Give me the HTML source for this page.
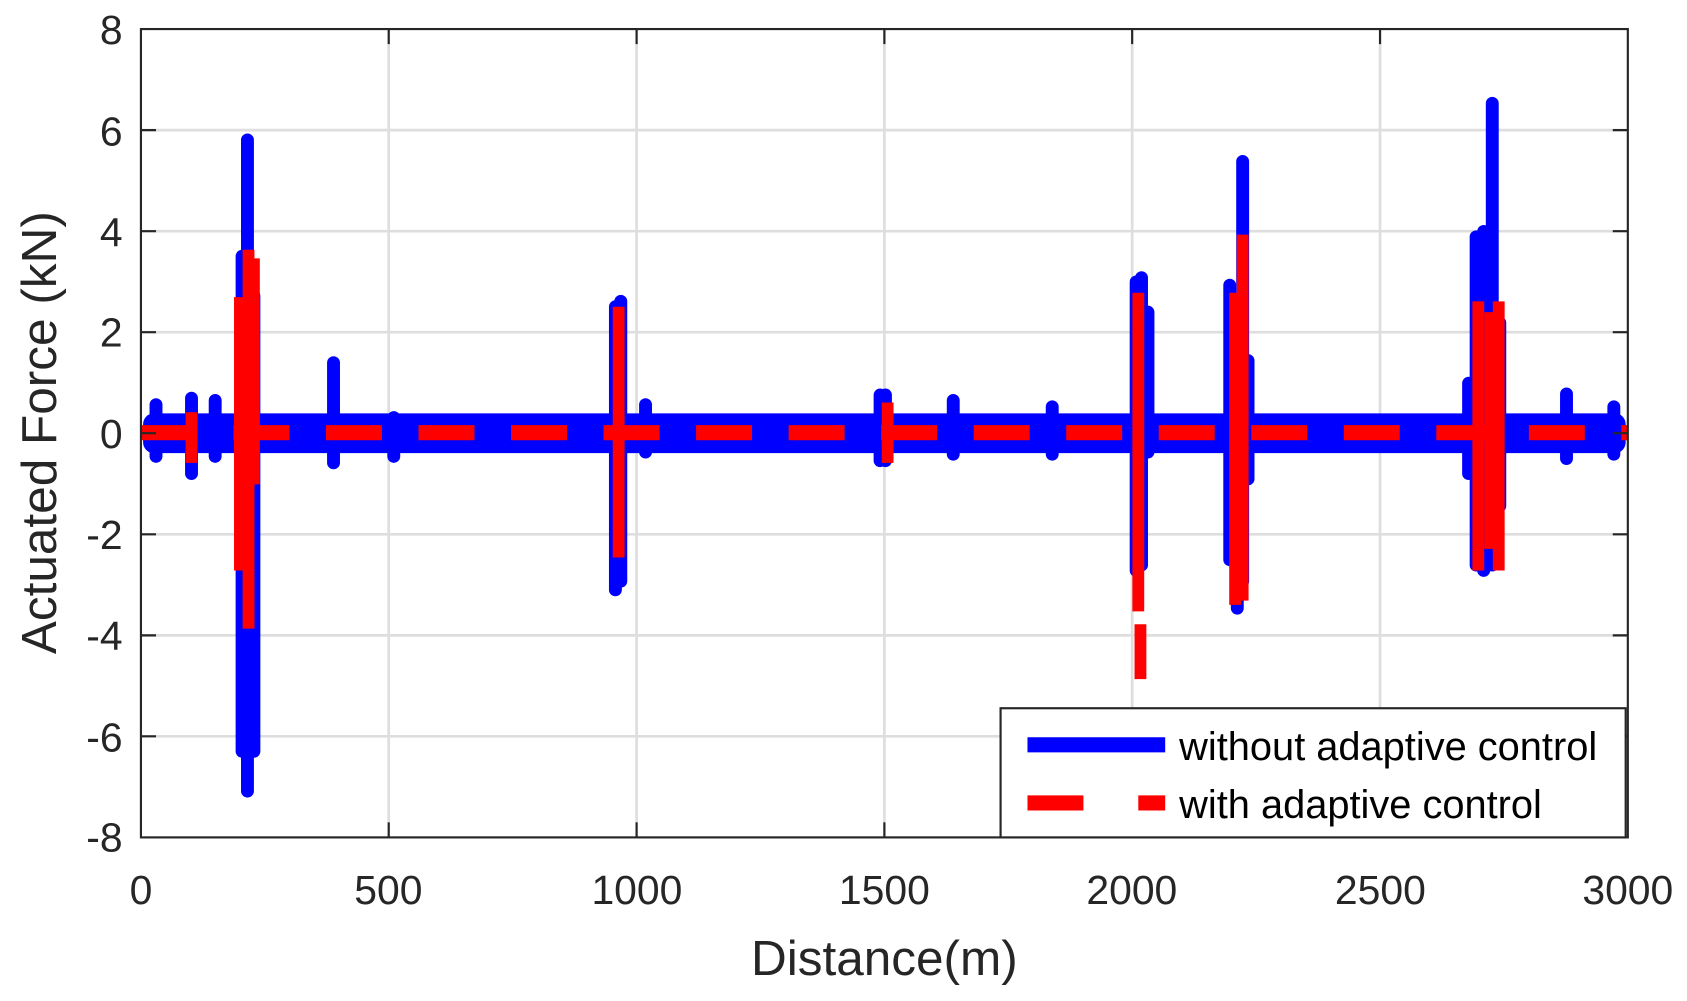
<!DOCTYPE html><html><head><style>html,body{margin:0;padding:0;background:#fff}svg{display:block}</style></head><body>
<svg width="1687" height="1001" viewBox="0 0 1568 930" preserveAspectRatio="none" xmlns="http://www.w3.org/2000/svg" font-family="Liberation Sans, sans-serif">
<rect width="1568" height="930" fill="#fff"/>
<g stroke="#dedede" stroke-width="2.5">
<line x1="361.3" y1="27" x2="361.3" y2="778"/><line x1="591.7" y1="27" x2="591.7" y2="778"/><line x1="822" y1="27" x2="822" y2="778"/><line x1="1052.3" y1="27" x2="1052.3" y2="778"/><line x1="1282.7" y1="27" x2="1282.7" y2="778"/>
<line x1="131" y1="120.9" x2="1513" y2="120.9"/><line x1="131" y1="214.8" x2="1513" y2="214.8"/><line x1="131" y1="308.6" x2="1513" y2="308.6"/><line x1="131" y1="402.5" x2="1513" y2="402.5"/><line x1="131" y1="496.4" x2="1513" y2="496.4"/><line x1="131" y1="590.3" x2="1513" y2="590.3"/><line x1="131" y1="684.1" x2="1513" y2="684.1"/>
</g>
<g stroke="#0000ff" stroke-width="12" stroke-linecap="round" fill="none">
<rect x="133" y="384" width="1378" height="37" rx="10" fill="#0000ff" stroke="none"/>
<line x1="145" y1="376" x2="145" y2="424"/>
<line x1="178" y1="370" x2="178" y2="440"/>
<line x1="200" y1="372" x2="200" y2="424"/>
<line x1="225" y1="238" x2="225" y2="698"/>
<line x1="230" y1="130" x2="230" y2="735"/>
<line x1="236" y1="275" x2="236" y2="698"/>
<line x1="310" y1="337" x2="310" y2="430"/>
<line x1="366" y1="388" x2="366" y2="424"/>
<line x1="572" y1="285" x2="572" y2="548"/>
<line x1="577" y1="280" x2="577" y2="540"/>
<line x1="600" y1="376" x2="600" y2="420"/>
<line x1="818" y1="367" x2="818" y2="428"/>
<line x1="823" y1="367" x2="823" y2="428"/>
<line x1="886" y1="372" x2="886" y2="422"/>
<line x1="978" y1="378" x2="978" y2="422"/>
<line x1="1056" y1="262" x2="1056" y2="530"/>
<line x1="1061" y1="258" x2="1061" y2="525"/>
<line x1="1067" y1="290" x2="1067" y2="420"/>
<line x1="1143" y1="265" x2="1143" y2="520"/>
<line x1="1150" y1="320" x2="1150" y2="565"/>
<line x1="1155" y1="150" x2="1155" y2="540"/>
<line x1="1160" y1="335" x2="1160" y2="445"/>
<line x1="1365" y1="356" x2="1365" y2="440"/>
<line x1="1372" y1="220" x2="1372" y2="525"/>
<line x1="1379" y1="215" x2="1379" y2="530"/>
<line x1="1387" y1="96" x2="1387" y2="525"/>
<line x1="1394" y1="300" x2="1394" y2="470"/>
<line x1="1456" y1="366" x2="1456" y2="426"/>
<line x1="1500" y1="378" x2="1500" y2="422"/>
</g>
<g stroke="#ff0000" fill="none">
<line x1="131" y1="402" x2="1513" y2="402" stroke-width="14" stroke-dasharray="52,34"/>
<g stroke-width="11">
<line x1="178" y1="383" x2="178" y2="430"/>
<line x1="223" y1="276" x2="223" y2="530"/>
<line x1="231" y1="232" x2="231" y2="584"/>
<line x1="236" y1="240" x2="236" y2="450"/>
<line x1="575" y1="285" x2="575" y2="518"/>
<line x1="825" y1="374" x2="825" y2="430"/>
<line x1="1058" y1="272" x2="1058" y2="568"/>
<line x1="1060" y1="580" x2="1060" y2="631"/>
<line x1="1148" y1="272" x2="1148" y2="562"/>
<line x1="1155" y1="218" x2="1155" y2="558"/>
<line x1="1374" y1="280" x2="1374" y2="530"/>
<line x1="1385" y1="290" x2="1385" y2="510"/>
<line x1="1393" y1="280" x2="1393" y2="530"/>
</g></g>
<rect x="131" y="27" width="1382" height="751" fill="none" stroke="#262626" stroke-width="2"/>
<g stroke="#262626" stroke-width="2">
<line x1="361.3" y1="778" x2="361.3" y2="764"/><line x1="591.7" y1="778" x2="591.7" y2="764"/><line x1="822" y1="778" x2="822" y2="764"/><line x1="1052.3" y1="778" x2="1052.3" y2="764"/><line x1="1282.7" y1="778" x2="1282.7" y2="764"/>
<line x1="361.3" y1="27" x2="361.3" y2="41"/><line x1="591.7" y1="27" x2="591.7" y2="41"/><line x1="822" y1="27" x2="822" y2="41"/><line x1="1052.3" y1="27" x2="1052.3" y2="41"/><line x1="1282.7" y1="27" x2="1282.7" y2="41"/>
<path d="M131 120.9h14M131 214.8h14M131 308.6h14M131 402.5h14M131 496.4h14M131 590.3h14M131 684.1h14M1513 120.9h-14M1513 214.8h-14M1513 308.6h-14M1513 402.5h-14M1513 496.4h-14M1513 590.3h-14M1513 684.1h-14"/>
</g>
<g fill="#262626" font-size="38" text-anchor="end">
<text x="114" y="41">8</text><text x="114" y="135">6</text><text x="114" y="229">4</text><text x="114" y="322">2</text><text x="114" y="416">0</text><text x="114" y="510">-2</text><text x="114" y="604">-4</text><text x="114" y="698">-6</text><text x="114" y="791">-8</text>
</g>
<g fill="#262626" font-size="38" text-anchor="middle">
<text x="131" y="840">0</text><text x="361" y="840">500</text><text x="592" y="840">1000</text><text x="822" y="840">1500</text><text x="1052" y="840">2000</text><text x="1283" y="840">2500</text><text x="1513" y="840">3000</text>
</g>
<text x="822" y="906" font-size="46" fill="#262626" text-anchor="middle">Distance(m)</text>
<text transform="translate(52,402) rotate(-90)" font-size="46" fill="#262626" text-anchor="middle">Actuated Force (kN)</text>
<rect x="930" y="658" width="581" height="120" fill="#fff" stroke="#262626" stroke-width="2"/>
<line x1="955" y1="692" x2="1083" y2="692" stroke="#0000ff" stroke-width="14"/>
<line x1="955" y1="746" x2="1007" y2="746" stroke="#ff0000" stroke-width="14"/>
<line x1="1058" y1="746" x2="1083" y2="746" stroke="#ff0000" stroke-width="14"/>
<text x="1096" y="706" font-size="37" fill="#000">without adaptive control</text>
<text x="1096" y="760" font-size="37" fill="#000">with adaptive control</text>
</svg>
</body></html>
